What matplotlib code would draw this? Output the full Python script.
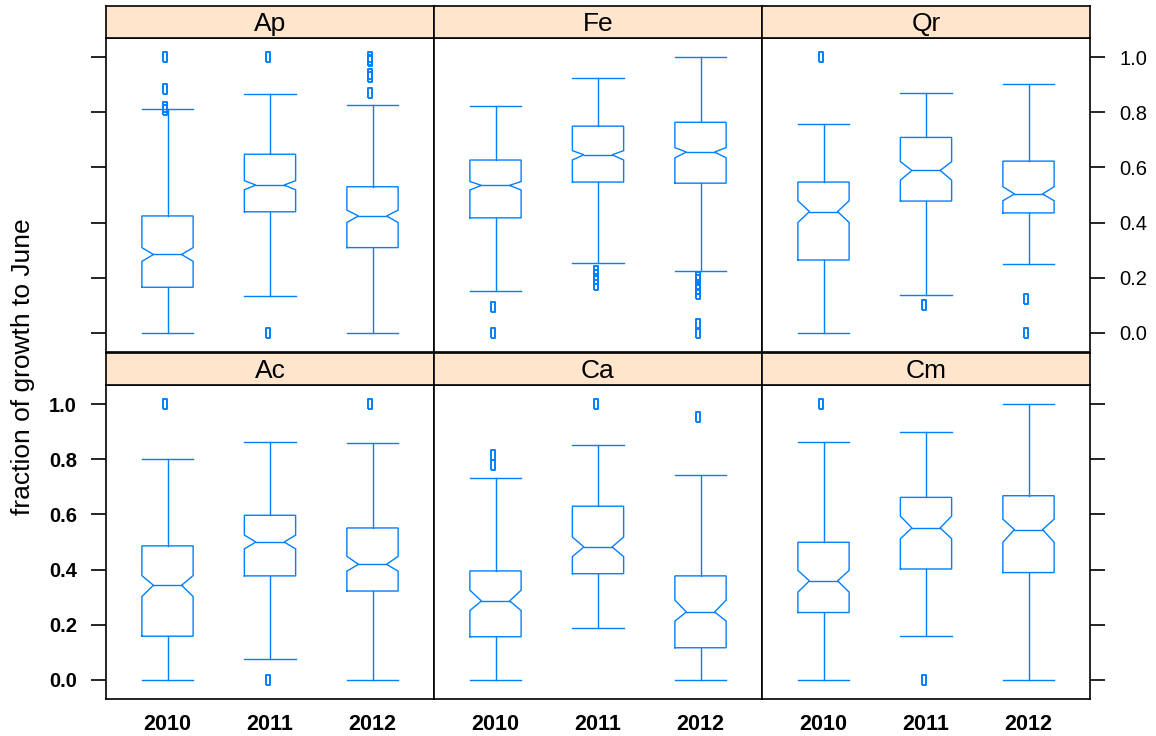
import matplotlib
matplotlib.use("Agg")
import matplotlib.pyplot as plt
import numpy as np

# growth fractions summarised per species and year
species = ["Ap", "Fe", "Qr", "Ac", "Ca", "Cm"]
years = ["2010", "2011", "2012"]

whislo = {"Ap": [0.0, 0.133, 0.0], "Fe": [0.150, 0.252, 0.223], "Qr": [0.0, 0.137, 0.248],
          "Ac": [0.0, 0.074, 0.0], "Ca": [0.0, 0.186, 0.0], "Cm": [0.0, 0.158, 0.0]}
q1 = {"Ap": [0.165, 0.439, 0.309], "Fe": [0.417, 0.547, 0.543], "Qr": [0.264, 0.478, 0.435],
      "Ac": [0.158, 0.377, 0.322], "Ca": [0.156, 0.385, 0.116], "Cm": [0.244, 0.402, 0.389]}
med = {"Ap": [0.284, 0.536, 0.424], "Fe": [0.535, 0.646, 0.656], "Qr": [0.440, 0.589, 0.504],
       "Ac": [0.343, 0.500, 0.419], "Ca": [0.286, 0.482, 0.246], "Cm": [0.359, 0.551, 0.545]}
q3 = {"Ap": [0.424, 0.648, 0.530], "Fe": [0.627, 0.750, 0.764], "Qr": [0.547, 0.709, 0.623],
      "Ac": [0.486, 0.597, 0.551], "Ca": [0.395, 0.630, 0.377], "Cm": [0.499, 0.662, 0.668]}
whishi = {"Ap": [0.813, 0.868, 0.827], "Fe": [0.823, 0.925, 1.0], "Qr": [0.756, 0.872, 0.903],
          "Ac": [0.803, 0.862, 0.859], "Ca": [0.734, 0.853, 0.744], "Cm": [0.862, 0.899, 1.0]}
cilo = {"Ap": [0.259, 0.519, 0.400], "Fe": [0.518, 0.627, 0.635], "Qr": [0.400, 0.554, 0.479],
        "Ac": [0.302, 0.475, 0.394], "Ca": [0.251, 0.447, 0.213], "Cm": [0.318, 0.512, 0.499]}
cihi = {"Ap": [0.309, 0.552, 0.445], "Fe": [0.549, 0.661, 0.672], "Qr": [0.479, 0.621, 0.530],
        "Ac": [0.378, 0.525, 0.448], "Ca": [0.325, 0.518, 0.289], "Cm": [0.397, 0.594, 0.583]}
fliers = {
    "Ap": [[1.0, 0.885, 0.82, 0.81], [1.0, 0.0], [1.0, 0.99, 0.985, 0.94, 0.93, 0.87]],
    "Fe": [[0.095, 0.0], [0.224, 0.21, 0.195, 0.175], [0.204, 0.19, 0.175, 0.16, 0.14, 0.03, 0.0]],
    "Qr": [[1.0], [0.10], [0.124, 0.0]],
    "Ac": [[1.0], [0.0], [1.0]],
    "Ca": [[0.815, 0.78], [1.0], [0.955]],
    "Cm": [[1.0], [0.0], []],
}

blue = "#0080ff"
strip_bg = "#ffe5cc"
W, H = 1156, 736

plt.rcParams["font.family"] = ["Liberation Sans", "DejaVu Sans"]

fig = plt.figure(figsize=(W / 100, H / 100), dpi=100)

# flier symbol: small open upright rectangle
rect = [(-0.45, -1), (0.45, -1), (0.45, 1), (-0.45, 1), (-0.45, -1)]


def notched_box(ax, pos, lo, a, m, b, hi, clo, chi, out, width=0.5, notch=0.55):
    h = width / 2
    n = h * notch
    xs = [pos - h, pos + h, pos + h, pos + n, pos + h, pos + h, pos - h, pos - h, pos - n, pos - h, pos - h]
    ys = [a, a, clo, m, chi, b, b, chi, m, clo, a]
    kw = dict(color=blue, lw=1.0, solid_joinstyle="miter")
    ax.plot(xs, ys, **kw)
    ax.plot([pos - n, pos + n], [m, m], **kw)
    ax.plot([pos, pos], [b, hi], **kw)
    ax.plot([pos, pos], [lo, a], **kw)
    ax.plot([pos - h, pos + h], [hi, hi], **kw)
    ax.plot([pos - h, pos + h], [lo, lo], **kw)
    if out:
        ax.plot([pos - 0.02] * len(out), out, ls="none", marker=rect, ms=6.5,
                mfc="none", mec=blue, mew=1.4)


col_left = [106, 434, 762]
col_w = 328
rows = [(6, 38, 352), (353, 385, 699)]  # strip top, panel top, panel bottom (px)

for i, sp in enumerate(species):
    r, c = divmod(i, 3)
    st, pt, pb = rows[r]
    x0 = col_left[c]
    ax = fig.add_axes([x0 / W, 1 - pb / H, col_w / W, (pb - pt) / H])
    sax = fig.add_axes([x0 / W, 1 - pt / H, col_w / W, (pt - st) / H])

    for k in range(3):
        notched_box(ax, k + 1, whislo[sp][k], q1[sp][k], med[sp][k], q3[sp][k],
                    whishi[sp][k], cilo[sp][k], cihi[sp][k], fliers[sp][k])

    ax.set_xlim(0.4, 3.6)
    ax.set_ylim(-0.07, 1.07)
    for s in ax.spines.values():
        s.set_linewidth(1.2)

    ax.set_yticks([0.0, 0.2, 0.4, 0.6, 0.8, 1.0])
    ax.set_yticklabels(["0.0", "0.2", "0.4", "0.6", "0.8", "1.0"])
    ax.tick_params(axis="y", length=11, width=1.2, pad=10, labelsize=14.5)
    for lab in ax.get_yticklabels():
        lab.set_fontweight("bold")

    # alternating y axes: labels on the right for the top row, on the left for the bottom row
    if r == 0:
        ax.tick_params(axis="y", left=(c == 0), right=(c == 2), labelleft=False, labelright=(c == 2))
    else:
        ax.tick_params(axis="y", left=(c == 0), right=(c == 2), labelleft=(c == 0), labelright=False)

    ax.set_xticks([1, 2, 3])
    if r == 1:
        ax.set_xticklabels(years, fontsize=15.5, fontweight="bold")
        ax.tick_params(axis="x", length=0, pad=11)
    else:
        ax.tick_params(axis="x", length=0, labelbottom=False)

    sax.set_facecolor(strip_bg)
    sax.set_xticks([])
    sax.set_yticks([])
    for s in sax.spines.values():
        s.set_linewidth(1.2)
    sax.text(0.5, 0.45, sp, ha="center", va="center", fontsize=19, transform=sax.transAxes)

fig.text(23 / W, 1 - 367 / H, "fraction of growth to June", rotation=90,
         ha="center", va="center", fontsize=19)

plt.savefig("out.png", dpi=100)
